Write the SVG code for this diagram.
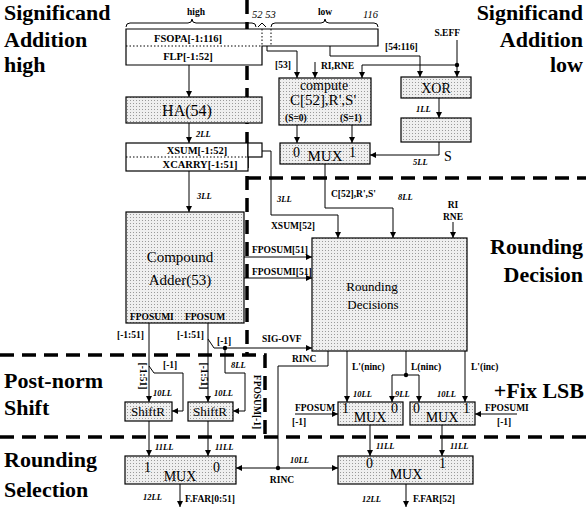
<svg xmlns="http://www.w3.org/2000/svg" width="586" height="514" viewBox="0 0 586 514">
<defs>
<pattern id="st" width="3" height="3" patternUnits="userSpaceOnUse"><rect width="3" height="3" fill="#efefef"/><rect x="1" y="1" width="1" height="1" fill="#9a9a9a"/></pattern>
<marker id="ah" viewBox="0 0 6 6" refX="6" refY="3" markerWidth="6" markerHeight="6" markerUnits="userSpaceOnUse" orient="auto"><path d="M0,0 L6,3 L0,6 z" fill="#000"/></marker>
<style>
.box{fill:url(#st);stroke:#000;stroke-width:1.2}
.wbox{fill:#fff;stroke:#000;stroke-width:1.2}
.w{fill:none;stroke:#000;stroke-width:1}
.a{marker-end:url(#ah)}
.dot{fill:none;stroke:#000;stroke-width:1;stroke-dasharray:1.5 2}
.dash{fill:none;stroke:#000;stroke-width:3.5;stroke-dasharray:14 8}
.reg{font-family:"Liberation Serif",serif;font-weight:bold;font-size:22px;fill:#000}
.lbl{font-family:"Liberation Serif",serif;font-weight:bold;font-size:9.5px;fill:#000}
.blbl{font-family:"Liberation Serif",serif;font-weight:bold;font-size:10.5px;fill:#000}
.dly{font-family:"Liberation Serif",serif;font-style:italic;font-weight:bold;font-size:8.5px;fill:#000}
.it{font-family:"Liberation Serif",serif;font-style:italic;font-size:10.5px;fill:#000}
.t{font-family:"Liberation Serif",serif;font-size:14px;fill:#000}
.mid{text-anchor:middle}
.end{text-anchor:end}
.jd{fill:#000}
</style>
</defs>
<rect width="586" height="514" fill="#fff"/>

<g id="region-labels">
<text class="reg" x="4" y="20">Significand</text>
<text class="reg" x="4" y="47">Addition</text>
<text class="reg" x="4" y="72">high</text>
<text class="reg end" x="583" y="20">Significand</text>
<text class="reg end" x="583" y="47">Addition</text>
<text class="reg end" x="583" y="72">low</text>
<text class="reg end" x="583" y="254">Rounding</text>
<text class="reg end" x="583" y="282">Decision</text>
<text class="reg" x="4" y="388">Post-norm</text>
<text class="reg" x="4" y="415">Shift</text>
<text class="reg end" x="584" y="398">+Fix LSB</text>
<text class="reg" x="4" y="467">Rounding</text>
<text class="reg" x="4" y="497">Selection</text>
</g>

<g id="region-borders">
<path class="dash" d="M247,0 V355"/>
<path class="dash" d="M247,178 H586"/>
<path class="dash" d="M0,355 H265 V437"/>
<path class="dash" d="M0,437 H586"/>
</g>

<g id="fsopa">
<path class="w" d="M126,27 Q126,23 130,23 H188 Q192,23 192,19 Q192,23 196,23 H252 Q256,23 256,27"/>
<path class="w" d="M258,27 L262,23 L266,27"/>
<path class="w" d="M271,27 Q271,23 275,23 H321 Q325,23 325,19 Q325,23 329,23 H374 Q378,23 378,27"/>
<text class="lbl mid" x="196" y="15">high</text>
<text class="lbl mid" x="325" y="15">low</text>
<text class="it" x="252" y="18">52 53</text>
<text class="it" x="363" y="18">116</text>
<path class="wbox" d="M126,29 H378 V46 H262 V65 H126 Z"/>
<path class="dot" d="M126,46 H262 M262,29 V46 M271,29 V46"/>
<text class="blbl mid" x="188" y="42">FSOPA[-1:116]</text>
<text class="blbl mid" x="188" y="60">FLP[-1:52]</text>
</g>

<g id="ha">
<rect class="box" x="126" y="97" width="136" height="26"/>
<text class="t mid" x="187" y="116" style="font-size:16px">HA(54)</text>
</g>

<g id="xsum">
<rect class="wbox" x="126" y="143" width="122" height="28"/>
<path class="dot" d="M126,157 H248"/>
<rect class="wbox" x="248" y="143" width="14" height="14"/>
<text class="blbl mid" x="197" y="154">XSUM[-1:52]</text>
<text class="blbl mid" x="200" y="168">XCARRY[-1:51]</text>
</g>

<g id="compute">
<rect class="box" x="279" y="78" width="92" height="47"/>
<text class="t mid" x="324" y="90">compute</text>
<text class="t mid" x="323" y="105" style="font-size:15px">C[52],R',S'</text>
<text class="lbl" x="285" y="121">(S=0)</text>
<text class="lbl" x="340" y="121">(S=1)</text>
</g>

<g id="xor">
<rect class="box" x="401" y="77" width="70" height="21"/>
<text class="t mid" x="436" y="93">XOR</text>
</g>

<g id="sreg">
<rect class="box" x="401" y="118" width="70" height="24"/>
</g>

<g id="mux-s">
<rect class="box" x="280" y="143" width="90" height="21"/>
<text class="t" x="293" y="157">0</text>
<text class="t mid" x="325" y="161" style="font-size:15px">MUX</text>
<text class="t" x="349" y="157">1</text>
</g>

<g id="adder">
<rect class="box" x="126" y="212" width="118" height="111"/>
<text class="t mid" x="180" y="262" style="font-size:15px">Compound</text>
<text class="t mid" x="180" y="285" style="font-size:15px">Adder(53)</text>
<text class="lbl" x="130" y="320">FPOSUMI</text>
<text class="lbl" x="185" y="320">FPOSUM</text>
</g>

<g id="rounding">
<rect class="box" x="312" y="238" width="155" height="113"/>
<text class="t mid" x="372" y="291" style="font-size:13px">Rounding</text>
<text class="t mid" x="373" y="309" style="font-size:13px">Decisions</text>
</g>

<g id="shift-l">
<rect class="box" x="125" y="402" width="47" height="19"/>
<text class="t mid" x="148" y="416" style="font-size:13px">ShiftR</text>
</g>
<g id="shift-r">
<rect class="box" x="188" y="402" width="45" height="19"/>
<text class="t mid" x="210" y="416" style="font-size:13px">ShiftR</text>
</g>

<g id="fix-l">
<rect class="box" x="338" y="402" width="65" height="23"/>
<text class="t" x="342" y="413">1</text>
<text class="t mid" x="370" y="422">MUX</text>
<text class="t" x="391" y="413">0</text>
</g>
<g id="fix-r">
<rect class="box" x="410" y="402" width="65" height="23"/>
<text class="t" x="413" y="413">0</text>
<text class="t mid" x="442" y="422">MUX</text>
<text class="t" x="463" y="413">1</text>
</g>

<g id="sel-l">
<rect class="box" x="125" y="456" width="111" height="28"/>
<text class="t" x="144" y="472">1</text>
<text class="t mid" x="180" y="481">MUX</text>
<text class="t" x="213" y="472">0</text>
</g>
<g id="sel-r">
<rect class="box" x="338" y="456" width="135" height="28"/>
<text class="t" x="366" y="468">0</text>
<text class="t mid" x="406" y="479">MUX</text>
<text class="t" x="439" y="468">1</text>
</g>

<g id="connectors">
<path class="w a" d="M189,65 V97"/>
<path class="w a" d="M189,123 V143"/>
<path class="w a" d="M189,171 V212"/>
<path class="w a" d="M267,46 V51 H297 V78"/>
<path class="w a" d="M330,46 V56 H420 V77"/>
<path class="w a" d="M457,40 V77"/>
<path class="w a" d="M457,65 H362 V78"/>
<path class="w a" d="M315,62 V78"/>
<path class="w a" d="M439,98 V118"/>
<path class="w a" d="M439,142 V155 H370"/>
<path class="w a" d="M297,125 V143"/>
<path class="w a" d="M352,125 V143"/>
<path class="w a" d="M262,151 H271 V215 H338 V238"/>
<path class="w a" d="M325,164 V208 H393 V238"/>
<path class="w a" d="M453,222 V238"/>
<path class="w a" d="M244,257 H312"/>
<path class="w a" d="M244,278 H312"/>
<path class="w a" d="M149,323 V402"/>
<path class="w a" d="M208,323 V402"/>
<path class="w a" d="M208,339 L214,348 H312"/>
<path class="w a" d="M225,348 V373 H245 V411 H233"/>
<path class="w a" d="M149,366 L154,373 H183 V411 H172"/>
<path class="w a" d="M149,421 V456"/>
<path class="w a" d="M208,421 V456"/>
<path class="w a" d="M180,484 V507"/>
<path class="w" d="M328,351 V366 H278 V468"/>
<path class="w a" d="M278,468 H236"/>
<path class="w a" d="M278,468 H338"/>
<path class="w a" d="M347,351 V402"/>
<path class="w" d="M406,351 V375"/>
<path class="w a" d="M406,375 H392 V402"/>
<path class="w a" d="M406,375 H419 V402"/>
<path class="w a" d="M465,351 V402"/>
<path class="w a" d="M295,414 H338"/>
<path class="w a" d="M517,414 H475"/>
<path class="w a" d="M370,425 V456"/>
<path class="w a" d="M442,425 V456"/>
<path class="w a" d="M406,484 V507"/>
<circle class="jd" cx="457" cy="65" r="2.2"/>
<circle class="jd" cx="225" cy="348" r="2.2"/>
<circle class="jd" cx="406" cy="375" r="2.2"/>
<circle class="jd" cx="278" cy="468" r="2.2"/>
</g>

<g id="wire-labels">
<text class="lbl" x="275" y="68">[53]</text>
<text class="lbl" x="321" y="69">RI,RNE</text>
<text class="lbl" x="385" y="50">[54:116]</text>
<text class="lbl end" x="460" y="36">S.EFF</text>
<text class="t" x="444" y="161">S</text>
<text class="lbl" x="331" y="197">C[52],R',S'</text>
<text class="lbl" x="271" y="229">XSUM[52]</text>
<text class="lbl mid" x="453" y="208">RI</text>
<text class="lbl mid" x="453" y="220">RNE</text>
<text class="lbl" x="252" y="253">FPOSUM[51]</text>
<text class="lbl" x="252" y="275">FPOSUMI[51]</text>
<text class="lbl" x="117" y="338">[-1:51]</text>
<text class="lbl" x="177" y="338">[-1:51]</text>
<text class="lbl" x="217" y="344">[-1]</text>
<text class="lbl" x="262" y="342">SIG-OVF</text>
<text class="lbl" x="292" y="362">RINC</text>
<text class="lbl" x="163" y="368">[-1]</text>
<text class="lbl mid" transform="translate(140,376) rotate(90)">[-1:51]</text>
<text class="lbl mid" transform="translate(201,376) rotate(90)">[-1:51]</text>
<text class="lbl mid" transform="translate(254,402) rotate(90)">FPOSUM[-1]</text>
<text class="lbl" x="352" y="370">L'(ninc)</text>
<text class="lbl" x="411" y="370">L(ninc)</text>
<text class="lbl" x="471" y="370">L'(inc)</text>
<text class="lbl" x="295" y="411">FPOSUM</text>
<text class="lbl" x="292" y="425">[-1]</text>
<text class="lbl" x="485" y="411">FPOSUMI</text>
<text class="lbl" x="497" y="425">[-1]</text>
<text class="lbl mid" x="282" y="483">RINC</text>
<text class="lbl" x="185" y="502">F.FAR[0:51]</text>
<text class="lbl" x="413" y="502">F.FAR[52]</text>
</g>

<g id="delay-labels">
<text class="dly" x="196" y="137">2LL</text>
<text class="dly" x="197" y="199">3LL</text>
<text class="dly" x="416" y="112">1LL</text>
<text class="dly" x="413" y="165">5LL</text>
<text class="dly" x="277" y="202">3LL</text>
<text class="dly" x="398" y="200">8LL</text>
<text class="dly" x="231" y="368">8LL</text>
<text class="dly" x="153" y="396">10LL</text>
<text class="dly" x="214" y="396">10LL</text>
<text class="dly" x="155" y="450">11LL</text>
<text class="dly" x="215" y="450">11LL</text>
<text class="dly" x="143" y="500">12LL</text>
<text class="dly" x="353" y="397">10LL</text>
<text class="dly" x="395" y="397">9LL</text>
<text class="dly" x="437" y="397">10LL</text>
<text class="dly" x="376" y="449">11LL</text>
<text class="dly" x="450" y="449">11LL</text>
<text class="dly" x="290" y="463">10LL</text>
<text class="dly" x="362" y="502">12LL</text>
</g>
</svg>
